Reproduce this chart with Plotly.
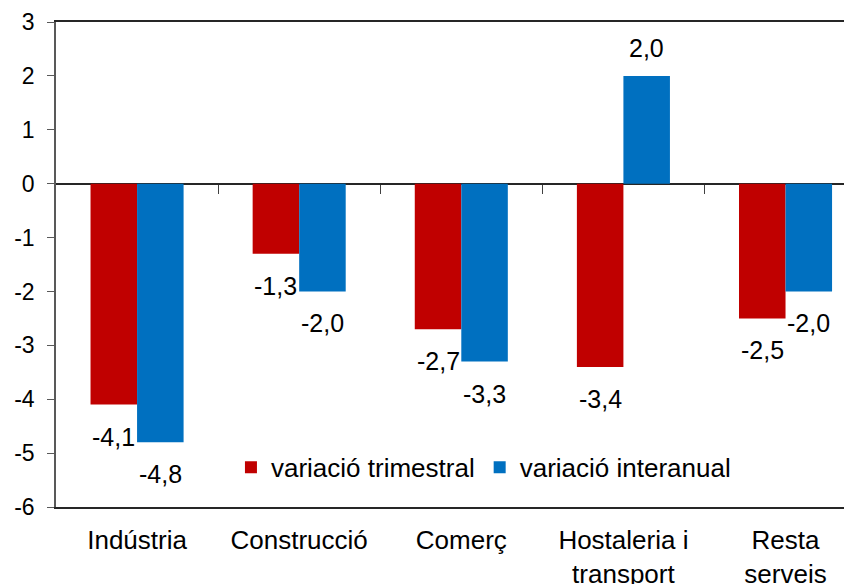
import plotly.graph_objects as go

categories = ["Indústria", "Construcció", "Comerç", "Hostaleria i<br>transport", "Resta<br>serveis"]
trimestral = [-4.1, -1.3, -2.7, -3.4, -2.5]
interanual = [-4.8, -2.0, -3.3, 2.0, -2.0]
series_names = ["variació trimestral", "variació interanual"]
ytick_vals = [-6, -5, -4, -3, -2, -1, 0, 1, 2, 3]
ytick_text = ["-6", "-5", "-4", "-3", "-2", "-1", "0", "1", "2", "3"]

RED = "#C00000"
BLUE = "#0070C0"
FONT = "Liberation Sans, Arial, sans-serif"
BAR_W = 0.287

def fmt(v):
    return f"{v:.1f}".replace(".", ",")

idx = list(range(len(categories)))

fig = go.Figure()
fig.add_trace(go.Bar(x=idx, y=trimestral, name=series_names[0], marker_color=RED,
                     marker_line_width=0))
fig.add_trace(go.Bar(x=idx, y=interanual, name=series_names[1], marker_color=BLUE,
                     marker_line_width=0))

annotations = []
for series, sign in ((trimestral, -1), (interanual, 1)):
    for i, v in enumerate(series):
        annotations.append(dict(
            x=i + sign * BAR_W / 2, y=v, xref="x", yref="y",
            text=fmt(v), showarrow=False,
            yanchor="middle", xanchor="center",
            yshift=(28 if v >= 0 else -32),
            font=dict(family=FONT, size=25, color="#000000"),
        ))

fig.update_layout(
    width=844, height=576,
    margin=dict(l=48, r=0, t=14, b=77, autoexpand=False),
    paper_bgcolor="white", plot_bgcolor="white",
    barmode="group", bargap=1 - 2 * BAR_W, bargroupgap=0,
    font=dict(family=FONT, color="#000000"),
    showlegend=True,
    legend=dict(orientation="h", x=0.537, y=0.082, xanchor="center", yanchor="middle",
                font=dict(family=FONT, size=26, color="#000000"),
                bgcolor="rgba(0,0,0,0)", itemwidth=30, tracegroupgap=0),
    annotations=annotations,
    xaxis=dict(
        tickmode="array", tickvals=idx, ticktext=categories,
        range=[-0.5, 4.41], showgrid=False, zeroline=False, automargin=False,
        showline=True, mirror=True, linecolor="#262626", linewidth=1.5,
        ticks="", ticklabelstandoff=9,
        tickfont=dict(family=FONT, size=26, color="#000000"),
    ),
    xaxis2=dict(
        overlaying="x", anchor="free", position=6 / 9, side="bottom",
        range=[-0.5, 4.41], tickmode="array", tickvals=[i + 0.5 for i in idx[:-1]],
        ticks="outside", ticklen=9, tickcolor="#404040", tickwidth=1, automargin=False,
        showticklabels=False, showgrid=False, zeroline=False, showline=False,
    ),
    yaxis=dict(
        range=[-6, 3], tickmode="array", tickvals=ytick_vals, ticktext=ytick_text,
        showgrid=False, zeroline=True, zerolinecolor="#262626", zerolinewidth=1.5,
        showline=True, linecolor="#595959", linewidth=1.5, automargin=False,
        ticks="outside", ticklen=7, tickcolor="#595959", ticklabelstandoff=8,
        tickfont=dict(family=FONT, size=23, color="#000000"),
    ),
)
fig.add_trace(go.Scatter(x=[None], y=[None], xaxis="x2", showlegend=False, hoverinfo="skip"))

fig.write_html("out.html")
